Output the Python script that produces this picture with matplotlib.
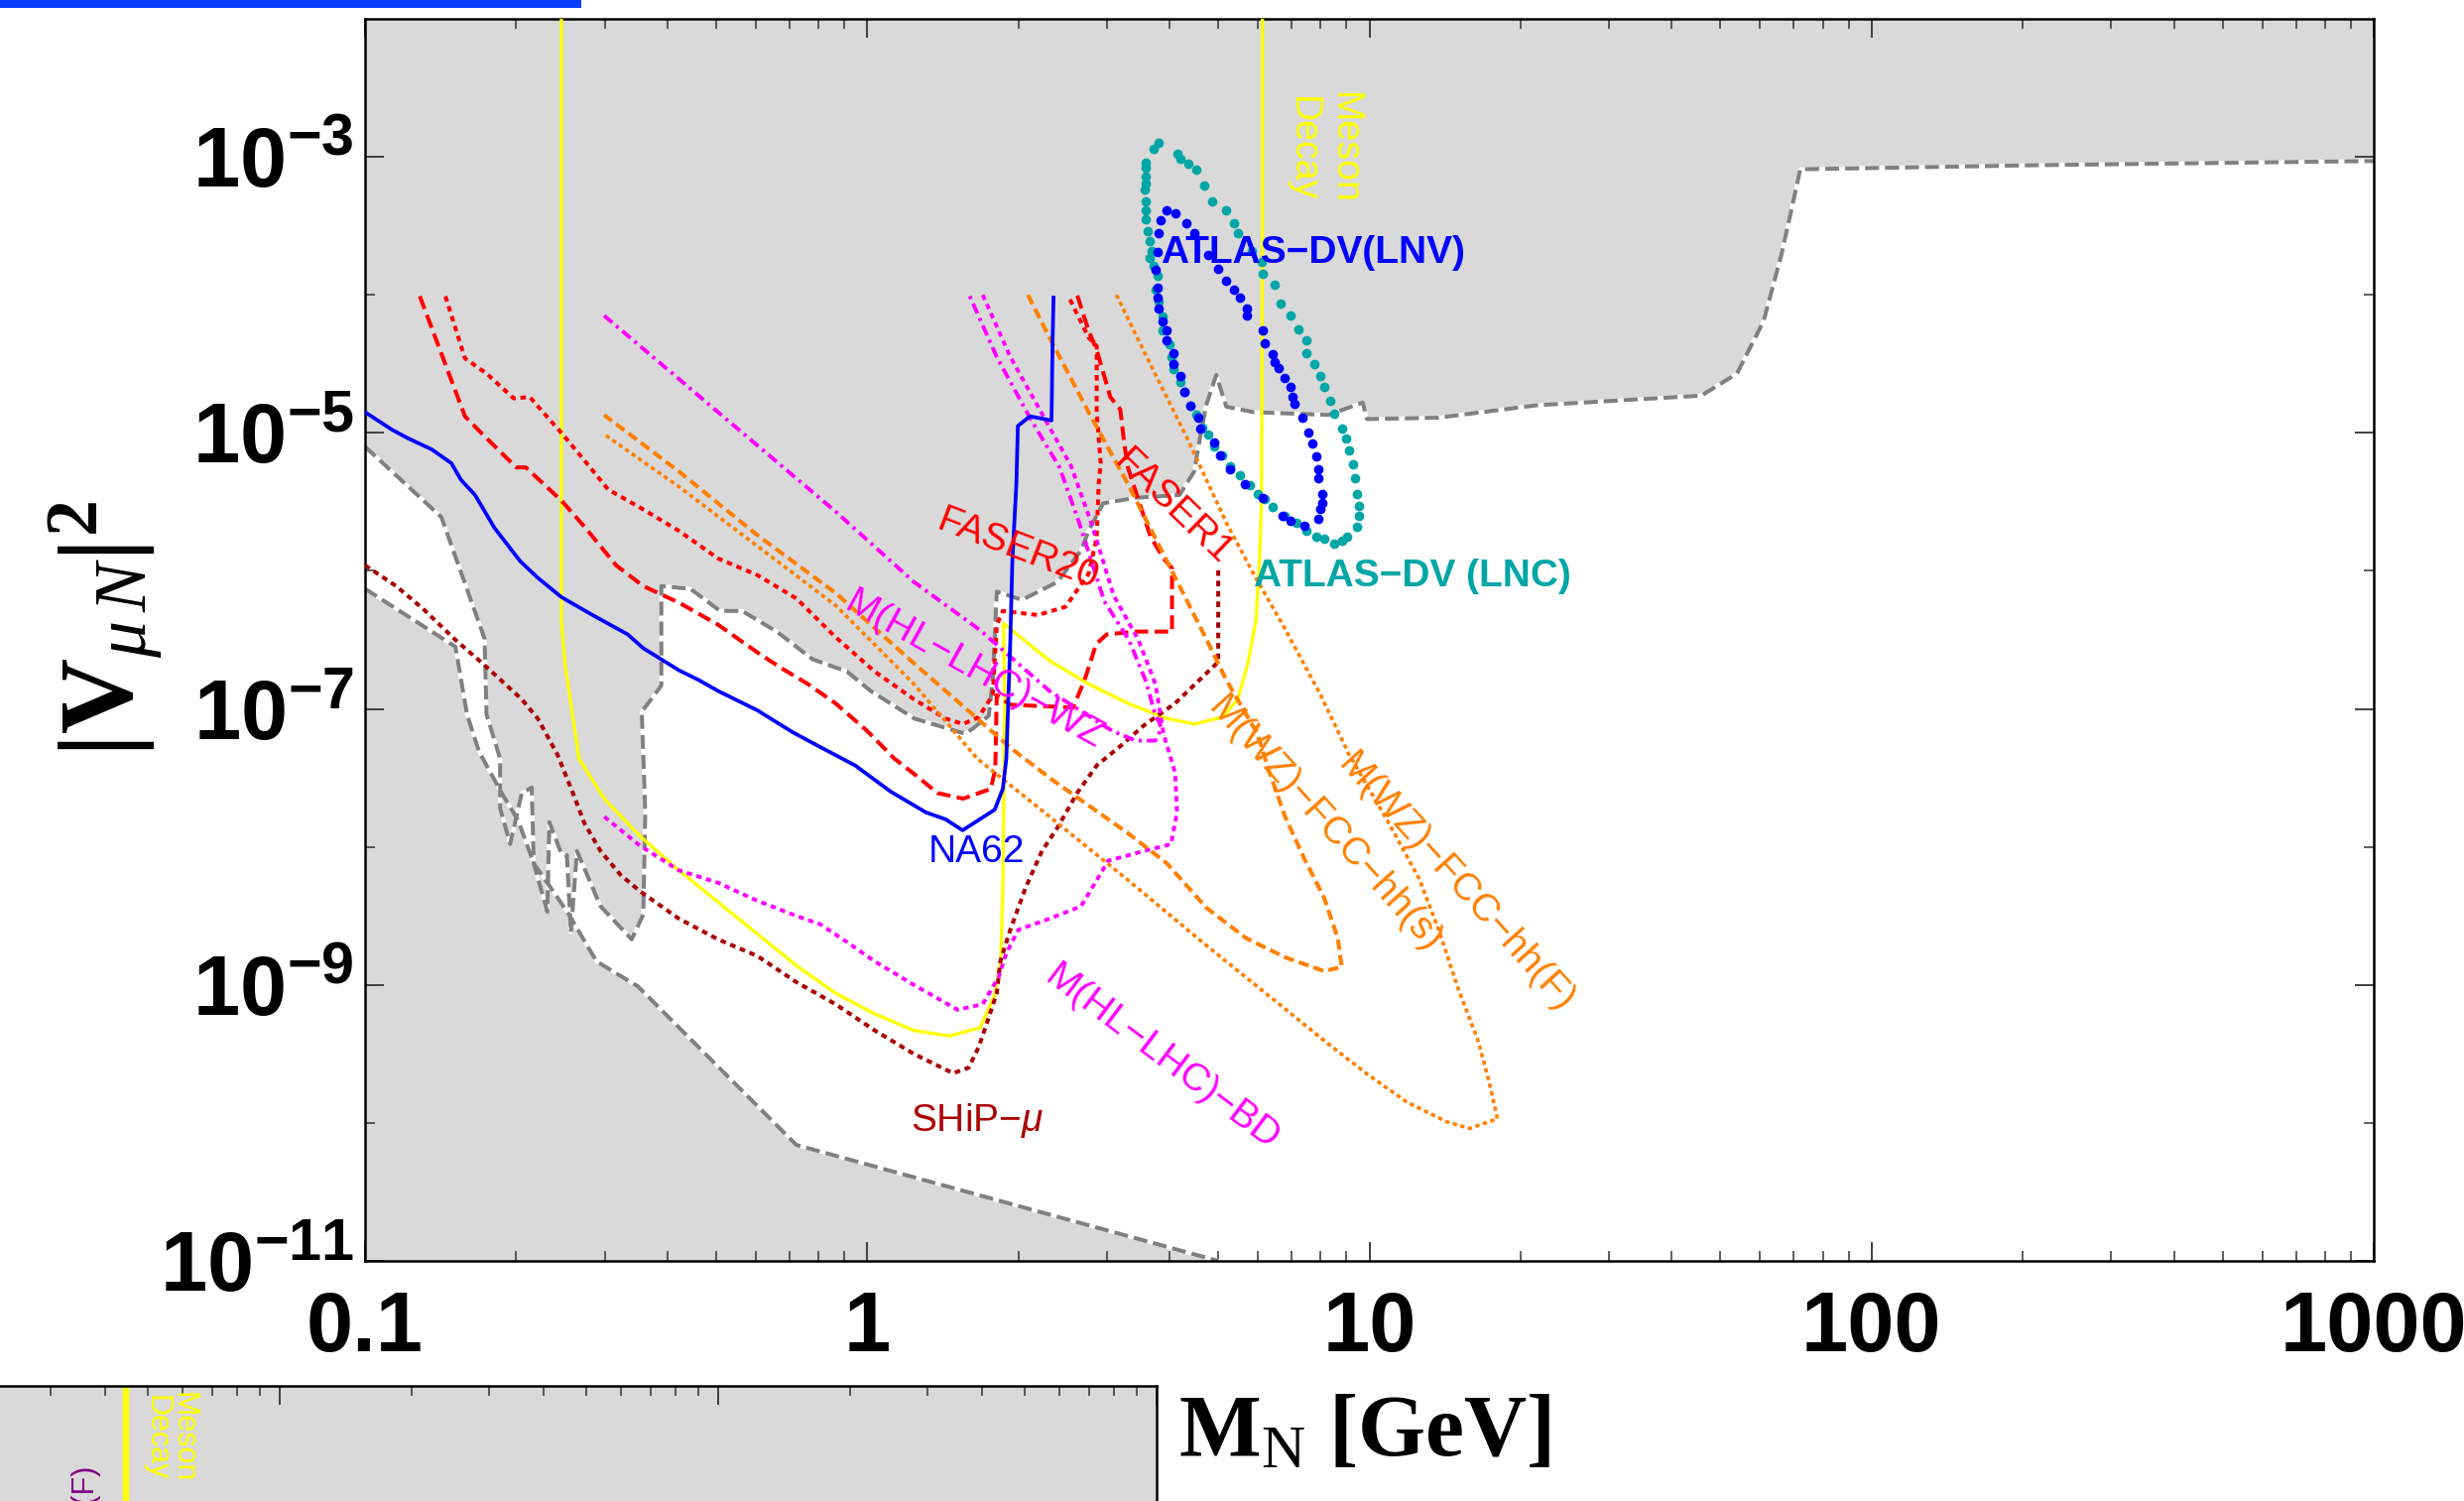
import numpy as np
import matplotlib
matplotlib.use("Agg")
import matplotlib.pyplot as plt
from matplotlib.patches import Rectangle
from matplotlib.ticker import FixedLocator, FixedFormatter, LogLocator, NullFormatter

plt.rcParams['font.family'] = ['Liberation Sans', 'DejaVu Sans']
plt.rcParams['mathtext.fontset'] = 'custom'
plt.rcParams['mathtext.rm'] = 'Liberation Serif'
plt.rcParams['mathtext.it'] = 'Liberation Serif:italic'
plt.rcParams['mathtext.bf'] = 'Liberation Serif:bold'
plt.rcParams['mathtext.sf'] = 'Liberation Sans:bold'
plt.rcParams['mathtext.tt'] = 'Liberation Sans:italic'

# all curves given as log10(M_N/GeV) and log10(|V_muN|^2)

# excluded region, upper part (lower edge, left to right)
upper_lm = [-1.000, -0.848, -0.762, -0.758, -0.731, -0.731, -0.711, -0.688, -0.668, -0.664,
            -0.637, -0.633, -0.609, -0.598, -0.590, -0.578, -0.531, -0.469, -0.446, -0.442,
            -0.449, -0.426, -0.410, -0.410, -0.352, -0.293, -0.249, -0.180, -0.109, -0.040,
            0.007, 0.094, 0.195, 0.211, 0.242, 0.250, 0.258, 0.308, 0.379, 0.426,
            0.442, 0.470, 0.535, 0.622, 0.651, 0.663, 0.675, 0.695, 0.715, 0.770,
            0.918, 0.987, 0.995, 1.137, 1.333, 1.661, 1.732, 1.785, 1.821, 1.843,
            1.858, 2.336, 3.000]
upper_lv = [-5.10, -5.61, -6.49, -7.04, -7.36, -7.72, -7.98, -7.61, -7.57, -8.12,
            -8.47, -7.82, -8.05, -8.06, -8.62, -8.03, -8.43, -8.67, -8.49, -7.75,
            -7.02, -6.91, -6.83, -6.11, -6.13, -6.29, -6.29, -6.44, -6.64, -6.73,
            -6.87, -7.07, -7.18, -7.14, -7.05, -6.79, -6.15, -6.21, -6.08, -5.85,
            -5.70, -5.51, -5.47, -5.45, -5.28, -5.03, -4.80, -4.58, -4.81, -4.85,
            -4.87, -4.78, -4.90, -4.89, -4.80, -4.73, -4.57, -4.19, -3.70, -3.34,
            -3.09, -3.06, -3.03]

# excluded region, lower part (upper edge)
lower_lm = [-1.000, -0.820, -0.797, -0.773, -0.731, -0.695, -0.664, -0.637, -0.594, -0.586,
            -0.539, -0.457, -0.141, 0.699]
lower_lv = [-6.13, -6.55, -7.04, -7.31, -7.59, -7.81, -8.12, -8.26, -8.49, -8.54,
            -8.83, -9.01, -10.16, -11.00]

meson_lm = [-0.609, -0.609, -0.602, -0.574, -0.524, -0.453, -0.375, -0.297, -0.219, -0.141,
            -0.063, 0.015, 0.093, 0.164, 0.225, 0.253, 0.266, 0.270, 0.274, 0.271,
            0.363, 0.441, 0.519, 0.597, 0.652, 0.707, 0.738, 0.758, 0.774, 0.781,
            0.785, 0.787, 0.787]
meson_lv = [-2.00, -6.36, -6.67, -7.36, -7.65, -7.92, -8.17, -8.40, -8.63, -8.86,
            -9.06, -9.21, -9.33, -9.37, -9.31, -9.08, -8.83, -8.32, -6.90, -6.38,
            -6.65, -6.82, -6.96, -7.07, -7.11, -7.06, -6.93, -6.67, -6.36, -5.93,
            -5.51, -3.66, -2.00]

na62_lm = [-1.000, -0.945, -0.914, -0.867, -0.828, -0.809, -0.781, -0.742, -0.691, -0.656,
           -0.609, -0.547, -0.477, -0.446, -0.375, -0.336, -0.297, -0.219, -0.148, -0.102,
           -0.024, 0.047, 0.117, 0.156, 0.190, 0.254, 0.270, 0.277, 0.285, 0.289,
           0.297, 0.300, 0.324, 0.367, 0.369, 0.371]
na62_lv = [-4.85, -4.98, -5.04, -5.12, -5.22, -5.34, -5.45, -5.69, -5.93, -6.05,
           -6.19, -6.32, -6.46, -6.56, -6.72, -6.79, -6.87, -7.01, -7.17, -7.26,
           -7.41, -7.60, -7.75, -7.80, -7.88, -7.73, -7.58, -7.36, -6.50, -5.93,
           -5.37, -4.95, -4.88, -4.91, -4.37, -4.02]

faser1_lm = [-0.891, -0.801, -0.766, -0.699, -0.680, -0.609, -0.563, -0.500, -0.446, -0.375,
             -0.297, -0.219, -0.173, -0.118, -0.063, 0.000, 0.054, 0.093, 0.140, 0.191,
             0.246, 0.255, 0.258, 0.285, 0.410, 0.433, 0.456, 0.477, 0.535, 0.607,
             0.607, 0.590, 0.564, 0.519, 0.512, 0.504, 0.484, 0.473, 0.457, 0.441, 0.418]
faser1_lv = [-4.01, -4.88, -5.01, -5.25, -5.25, -5.49, -5.68, -5.96, -6.11, -6.23,
             -6.39, -6.59, -6.70, -6.82, -6.96, -7.16, -7.36, -7.47, -7.61, -7.65,
             -7.58, -7.44, -6.90, -6.97, -6.99, -6.79, -6.53, -6.46, -6.44, -6.44,
             -5.98, -5.91, -5.75, -5.25, -5.08, -4.83, -4.74, -4.60, -4.40, -4.26, -4.00]

faser20_lm = [-0.840, -0.801, -0.758, -0.704, -0.672, -0.609, -0.563, -0.516, -0.453, -0.375,
              -0.297, -0.219, -0.141, -0.063, 0.015, 0.093, 0.156, 0.191, 0.222, 0.250,
              0.258, 0.270, 0.340, 0.395, 0.441, 0.457, 0.461, 0.465, 0.457, 0.457,
              0.441, 0.402]
faser20_lv = [-4.01, -4.46, -4.57, -4.75, -4.74, -5.00, -5.20, -5.41, -5.54, -5.71,
              -5.91, -6.03, -6.20, -6.48, -6.73, -6.93, -7.07, -7.11, -7.06, -6.90,
              -6.39, -6.29, -6.32, -6.26, -6.02, -5.76, -5.37, -5.22, -4.85, -4.37,
              -4.31, -4.02]

ship_lm = [-1.000, -0.938, -0.883, -0.820, -0.766, -0.688, -0.656, -0.617, -0.586, -0.563,
           -0.531, -0.492, -0.453, -0.375, -0.297, -0.219, -0.141, -0.063, 0.015, 0.093,
           0.171, 0.202, 0.222, 0.238, 0.258, 0.265, 0.285, 0.316, 0.348, 0.379,
           0.418, 0.457, 0.504, 0.551, 0.613, 0.699, 0.699]
ship_lv = [-5.96, -6.11, -6.28, -6.50, -6.67, -6.93, -7.07, -7.33, -7.61, -7.83,
           -8.03, -8.20, -8.32, -8.52, -8.67, -8.79, -8.98, -9.14, -9.33, -9.50,
           -9.64, -9.60, -9.45, -9.28, -9.06, -8.83, -8.60, -8.29, -8.03, -7.86,
           -7.61, -7.41, -7.27, -7.12, -6.96, -6.66, -5.98]

hl_wz_lm = [-0.524, -0.297, -0.063, 0.093, 0.225, 0.363, 0.488, 0.535, 0.574, 0.586,
            0.572, 0.554, 0.521, 0.472, 0.422, 0.383, 0.327, 0.258, 0.203]
hl_wz_lv = [-4.15, -4.85, -5.57, -6.08, -6.43, -6.87, -7.16, -7.23, -7.23, -7.14,
            -7.02, -6.79, -6.50, -6.22, -5.65, -5.25, -4.91, -4.45, -4.00]

hl_bd_lm = [0.230, 0.285, 0.351, 0.406, 0.446, 0.491, 0.540, 0.574, 0.590, 0.613,
            0.617, 0.605, 0.551, 0.480, 0.426, 0.363, 0.301, 0.277, 0.262, 0.230,
            0.180, 0.093, 0.015, -0.040, -0.094, -0.141, -0.219, -0.297, -0.375, -0.453, -0.524]
hl_bd_lv = [-4.00, -4.45, -4.88, -5.24, -5.65, -6.18, -6.50, -6.82, -7.18, -7.46,
            -7.75, -7.98, -8.03, -8.10, -8.43, -8.52, -8.60, -8.77, -8.94, -9.14,
            -9.18, -9.00, -8.83, -8.69, -8.56, -8.50, -8.39, -8.26, -8.17, -7.99, -7.78]

fcc_s_lm = [0.320, 0.363, 0.441, 0.519, 0.597, 0.676, 0.715, 0.777, 0.801, 0.832,
            0.871, 0.910, 0.937, 0.945, 0.910, 0.832, 0.754, 0.675, 0.597, 0.519,
            0.441, 0.367, 0.288, 0.213, 0.093, -0.063, -0.219, -0.375, -0.524]
fcc_s_lv = [-4.00, -4.31, -4.85, -5.37, -5.93, -6.50, -6.79, -7.18, -7.46, -7.78,
            -8.09, -8.37, -8.66, -8.87, -8.90, -8.80, -8.66, -8.44, -8.12, -7.90,
            -7.70, -7.51, -7.29, -7.05, -6.67, -6.16, -5.74, -5.28, -4.87]

fcc_f_lm = [0.496, 0.558, 0.636, 0.715, 0.769, 0.832, 0.903, 0.958, 1.036, 1.099,
            1.138, 1.177, 1.216, 1.239, 1.255, 1.200, 1.153, 1.075, 0.997, 0.919,
            0.841, 0.674, 0.519, 0.363, 0.219, 0.093, -0.063, -0.219, -0.375, -0.524]
fcc_f_lv = [-4.00, -4.46, -5.03, -5.65, -6.02, -6.42, -6.90, -7.32, -7.81, -8.23,
            -8.60, -9.03, -9.40, -9.71, -9.97, -10.04, -9.99, -9.85, -9.65, -9.43,
            -9.20, -8.71, -8.24, -7.78, -7.36, -6.82, -6.25, -5.82, -5.39, -5.01]

# ATLAS displaced vertex contours (dots)
lnc_lm = [0.581, 0.570, 0.554, 0.554, 0.554, 0.554, 0.552, 0.554, 0.554, 0.554,
          0.558, 0.562, 0.566, 0.562, 0.570, 0.578, 0.574, 0.581, 0.589, 0.589,
          0.601, 0.605, 0.609, 0.624, 0.632, 0.644, 0.656, 0.667, 0.679, 0.691,
          0.706, 0.722, 0.742, 0.761, 0.777, 0.792, 0.808, 0.831, 0.855, 0.874,
          0.894, 0.910, 0.929, 0.945, 0.956, 0.976, 0.980, 0.980, 0.976, 0.972,
          0.968, 0.960, 0.953, 0.945, 0.929, 0.921, 0.910, 0.902, 0.890, 0.874,
          0.874, 0.859, 0.843, 0.824, 0.812, 0.788, 0.785, 0.765, 0.738, 0.730,
          0.714, 0.687, 0.671, 0.656, 0.640, 0.624, 0.617]
lnc_lv = [-2.90, -2.94, -3.04, -3.08, -3.14, -3.19, -3.24, -3.32, -3.39, -3.45,
          -3.54, -3.61, -3.68, -3.73, -3.79, -3.86, -3.96, -4.05, -4.16, -4.26,
          -4.36, -4.45, -4.54, -4.63, -4.70, -4.80, -4.87, -4.96, -5.01, -5.10,
          -5.16, -5.24, -5.31, -5.38, -5.44, -5.48, -5.54, -5.60, -5.65, -5.71,
          -5.75, -5.77, -5.80, -5.78, -5.75, -5.68, -5.60, -5.53, -5.44, -5.33,
          -5.23, -5.13, -5.04, -4.97, -4.86, -4.77, -4.67, -4.59, -4.50, -4.42,
          -4.33, -4.25, -4.15, -4.06, -3.93, -3.85, -3.76, -3.68, -3.55, -3.48,
          -3.39, -3.32, -3.21, -3.09, -3.05, -3.01, -2.98]

lnv_lm = [0.597, 0.613, 0.585, 0.581, 0.578, 0.574, 0.578, 0.578, 0.581, 0.589,
          0.597, 0.597, 0.609, 0.609, 0.624, 0.632, 0.644, 0.660, 0.664, 0.691,
          0.703, 0.722, 0.753, 0.788, 0.828, 0.843, 0.871, 0.898, 0.902, 0.906,
          0.906, 0.898, 0.898, 0.894, 0.886, 0.878, 0.867, 0.851, 0.847, 0.843,
          0.831, 0.820, 0.812, 0.808, 0.792, 0.788, 0.757, 0.757, 0.742, 0.730,
          0.714, 0.699, 0.679, 0.652, 0.636]
lnv_lv = [-3.39, -3.41, -3.46, -3.55, -3.69, -3.82, -3.95, -4.02, -4.10, -4.19,
          -4.26, -4.33, -4.42, -4.50, -4.59, -4.70, -4.80, -4.89, -4.97, -5.07,
          -5.16, -5.26, -5.37, -5.47, -5.60, -5.64, -5.67, -5.62, -5.55, -5.51,
          -5.44, -5.33, -5.26, -5.17, -5.08, -5.00, -4.89, -4.79, -4.74, -4.67,
          -4.60, -4.53, -4.49, -4.43, -4.35, -4.26, -4.15, -4.10, -4.02, -3.96,
          -3.90, -3.81, -3.71, -3.55, -3.48]

x_ticks = [0.1, 1, 10, 100, 1000]
x_ticklabels = ['0.1', '1', '10', '100', '1000']
y_ticks = [1e-11, 1e-9, 1e-7, 1e-5, 1e-3]
y_ticklabels = [r'$\mathsf{10^{-11}}$', r'$\mathsf{10^{-9}}$', r'$\mathsf{10^{-7}}$',
                r'$\mathsf{10^{-5}}$', r'$\mathsf{10^{-3}}$']
y_minor = [1e-10, 1e-8, 1e-6, 1e-4]

inset_meson_m = 4.47   # yellow line of the panel cut off at the bottom

GRAY = '#d9d9d9'
W, H = 2484, 1513


def xy(lm, lv):
    return 10.0 ** np.asarray(lm), 10.0 ** np.asarray(lv)


fig = plt.figure(figsize=(W / 100, H / 100), dpi=100)
ax = fig.add_axes([368 / W, 1 - 1271 / H, 2025 / W, 1252 / H])
ax.set_xscale('log')
ax.set_yscale('log')

# excluded regions
ux, uy = xy(upper_lm, upper_lv)
lx, ly = xy(lower_lm, lower_lv)
ax.fill(np.r_[ux, 1000, 0.1], np.r_[uy, 1e-2, 1e-2], color=GRAY, lw=0, zorder=1)
ax.fill(np.r_[lx, 0.1], np.r_[ly, 1e-11], color=GRAY, lw=0, zorder=1)
for bx, by in [(ux, uy), (lx, ly)]:
    ax.plot(bx, by, color='white', lw=2.9, zorder=2)
    ax.plot(bx, by, color='#808080', lw=2.9, dashes=(3.5, 1.5), zorder=2.1)

# sensitivity curves
ax.plot(*xy(meson_lm, meson_lv), color='#ffff00', lw=2.4, zorder=3)
ax.plot(*xy(na62_lm, na62_lv), color='#0000ff', lw=2.7, zorder=3.2)
ax.plot(*xy(faser1_lm, faser1_lv), color='#ff0000', lw=2.9, dashes=(3.4, 1.6), zorder=3.1)
ax.plot(*xy(faser20_lm, faser20_lv), color='#ff0000', lw=2.9, dashes=(1.4, 1.2), zorder=3.1)
ax.plot(*xy(ship_lm, ship_lv), color='#aa0000', lw=2.9, dashes=(1.4, 1.2), zorder=3.1)
ax.plot(*xy(hl_wz_lm, hl_wz_lv), color='#ff00ff', lw=2.8, dashes=(2.8, 1.3, 0.8, 1.3), zorder=3.1)
ax.plot(*xy(hl_bd_lm, hl_bd_lv), color='#ff00ff', lw=2.8, dashes=(1.4, 1.2), zorder=3.1)
ax.plot(*xy(fcc_s_lm, fcc_s_lv), color='#ff8000', lw=2.9, dashes=(2.6, 1.3), zorder=3.1)
ax.plot(*xy(fcc_f_lm, fcc_f_lv), color='#ff8000', lw=2.6, dashes=(1.2, 1.0), zorder=3.1)

ax.plot(*xy(lnc_lm, lnc_lv), 'o', ms=7.0, color='#00a6a6', mec='none', zorder=5)
ax.plot(*xy(lnv_lm, lnv_lv), 'o', ms=7.0, color='#0000ff', mec='none', zorder=5.1)


def lab(lm, lv, s, color, rot=0, size=28, **kw):
    ax.text(10 ** lm, 10 ** lv, s, color=color, rotation=rot, fontsize=size,
            rotation_mode='anchor', ha='center', va='center', zorder=7, **kw)


lab(0.908, -2.94, 'Meson\nDecay', '#ffff00', rot=-90, size=27)
lab(0.888, -3.70, 'ATLAS−DV(LNV)', '#0000ff', fontweight='bold')
lab(1.085, -6.04, 'ATLAS−DV (LNC)', '#00a6a6', fontweight='bold')
lab(0.300, -5.85, 'FASER20', '#ff0000', rot=-21)
lab(0.608, -5.54, 'FASER1', '#ff0000', rot=-44)
lab(0.213, -6.72, 'M(HL−LHC)−WZ', '#ff00ff', rot=-29)
lab(0.588, -9.53, 'M(HL−LHC)−BD', '#ff00ff', rot=-37)
lab(0.910, -7.84, 'M(WZ)−FCC−hh(s)', '#ff8000', rot=-48)
lab(1.173, -8.26, 'M(WZ)−FCC−hh(F)', '#ff8000', rot=-48)
lab(0.217, -8.04, 'NA62', '#0000ff')
lab(0.219, -9.98, r'SHiP−$\mathtt{\mu}$', '#aa0000')

ax.set_xlim(0.1, 1000)
ax.set_ylim(1e-11, 1e-2)
ax.xaxis.set_major_locator(FixedLocator(x_ticks))
ax.xaxis.set_major_formatter(FixedFormatter(x_ticklabels))
ax.xaxis.set_minor_locator(LogLocator(base=10, subs=np.arange(2, 10)))
ax.xaxis.set_minor_formatter(NullFormatter())
ax.yaxis.set_major_locator(FixedLocator(y_ticks))
ax.yaxis.set_major_formatter(FixedFormatter(y_ticklabels))
ax.yaxis.set_minor_locator(FixedLocator(y_minor))
ax.yaxis.set_minor_formatter(NullFormatter())
ax.tick_params(which='both', direction='in', top=True, right=True, color='#333333')
ax.tick_params(which='major', length=14, width=1.3)
ax.tick_params(which='minor', length=7, width=1.1)
ax.tick_params(axis='x', which='major', pad=21, labelsize=61)
ax.tick_params(axis='y', which='major', pad=8, labelsize=61)
for t in ax.get_xticklabels():
    t.set_fontweight('bold')
for s in ax.spines.values():
    s.set_linewidth(1.8)
    s.set_color('black')

fig.text(107 / W, 1 - 634 / H, r'$\mathbf{|V}_{\mu\,N}\mathbf{|}^{\mathbf{2}}$',
         rotation=90, fontsize=76, ha='center', va='center')
fig.text(1188 / W, 1 - 1467 / H, r'M$_{\mathrm{N}}$ [GeV]', fontsize=63,
         family='Liberation Serif', fontweight='bold', ha='left', va='baseline')

# pieces of neighbouring panels that show in the crop
ax2 = fig.add_axes([-602 / W, -0.5, 1768 / W, 0.5 + (1 - 1397 / H)])
ax2.set_facecolor(GRAY)
ax2.set_xscale('log')
ax2.set_xlim(0.1, 1000)
ax2.set_ylim(0, 1)
ax2.axvline(inset_meson_m, color='#ffff00', lw=4.5)
ax2.tick_params(which='both', direction='in', top=True, bottom=False, left=False,
                labeltop=False, labelbottom=False, labelleft=False, color='#333333')
ax2.tick_params(which='major', length=14, width=1.3)
ax2.tick_params(which='minor', length=7, width=1.1)
ax2.xaxis.set_minor_locator(LogLocator(base=10, subs=np.arange(2, 10)))
ax2.xaxis.set_minor_formatter(NullFormatter())
ax2.spines['left'].set_visible(False)
ax2.spines['bottom'].set_visible(False)
for side in ['top', 'right']:
    ax2.spines[side].set_linewidth(1.8)
fig.text(171 / W, 1 - 1403 / H, 'Meson\nDecay', rotation=-90, color='#ffff00',
         fontsize=22, linespacing=0.9, ha='center', va='top')
fig.text(84 / W, 1 - 1475 / H, 'FCC−hh(F)', rotation=90, color='#800080',
         fontsize=22, ha='center', va='top')

fig.add_artist(Rectangle((0, 1 - 8 / H), 586 / W, 8 / H, transform=fig.transFigure,
                         color='#0a3cff', lw=0))

fig.savefig('out.png', dpi=100)
